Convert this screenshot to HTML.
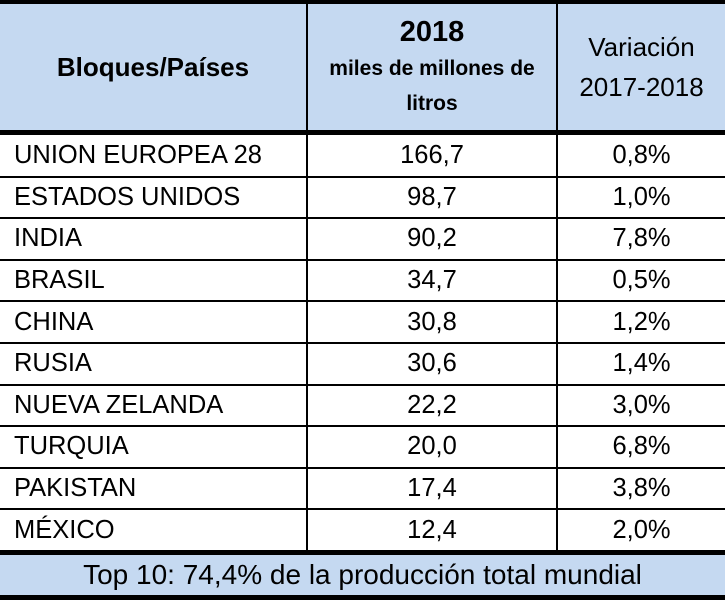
<!DOCTYPE html>
<html><head><meta charset="utf-8"><style>
body{margin:0;width:725px;height:600px;overflow:hidden;background:#fff;font-family:"Liberation Sans",sans-serif;color:#000}
.a{position:absolute}
.c{position:absolute;display:flex;align-items:center;box-sizing:border-box;white-space:nowrap}
.h{background:#c5d9f1}
</style></head><body>
<div class="a" style="left:0;top:0;width:725px;height:600px">
<div class="a h" style="left:0;top:0;width:725px;height:132px"></div>
<div class="a" style="left:0;top:0;width:725px;height:4px;background:#000"></div>
<div class="a" style="left:0;top:130px;width:725px;height:5px;background:#000"></div>
<div class="c" style="left:0;top:4px;width:306px;height:126px;justify-content:center;font-weight:bold;font-size:26px">Bloques/Países</div>
<div class="c" style="left:308px;top:4px;width:248px;height:126px;justify-content:center;flex-direction:column;font-weight:bold;text-align:center"><div style="font-size:29px;line-height:38px">2018</div><div style="font-size:21px;line-height:35px">miles de millones de<br>litros</div></div>
<div class="c" style="left:558px;top:4px;width:167px;height:126px;justify-content:center;text-align:center;font-size:26px;line-height:40px">Variación<br>2017-2018</div>
<div class="a" style="left:306px;top:0;width:2px;height:554px;background:#000"></div>
<div class="a" style="left:556px;top:0;width:2px;height:554px;background:#000"></div>
<div id="rows"></div>
<div class="a" style="left:0;top:550px;width:725px;height:5px;background:#000"></div>
<div class="c h" style="left:0;top:555px;width:725px;height:40px;justify-content:center;font-size:28px">Top 10: 74,4% de la producción total mundial</div>
<div class="a" style="left:0;top:595px;width:725px;height:5px;background:#000"></div>
</div>
<script>
const names=["UNION EUROPEA 28","ESTADOS UNIDOS","INDIA","BRASIL","CHINA","RUSIA","NUEVA ZELANDA","TURQUIA","PAKISTAN","MÉXICO"];
const vols=["166,7","98,7","90,2","34,7","30,8","30,6","22,2","20,0","17,4","12,4"];
const vars=["0,8%","1,0%","7,8%","0,5%","1,2%","1,4%","3,0%","6,8%","3,8%","2,0%"];
const R=document.getElementById('rows');
const top0=135,rh=41.6;
names.forEach((n,i)=>{
 const y=top0+i*rh;
 const row=document.createElement('div');
 
 
 row.className='a';row.style.cssText=`left:0;top:${y}px;width:725px;height:${rh}px;font-size:25.5px`;
 const c1=document.createElement('div');c1.className='c';c1.style.cssText=`left:14px;top:0;width:290px;height:${rh}px`;c1.textContent=n;
 
 
 const c2=document.createElement('div');c2.className='c';c2.style.cssText=`left:308px;top:0;width:248px;height:${rh}px;justify-content:center`;c2.textContent=vols[i];
 
 
 const c3=document.createElement('div');c3.className='c';c3.style.cssText=`left:558px;top:0;width:167px;height:${rh}px;justify-content:center`;c3.textContent=vars[i];
 
 
 row.append(c1,c2,c3);
 if(i<names.length-1){const l=document.createElement('div');l.className='a';l.style.cssText=`left:0;top:${rh-1}px;width:725px;height:2px;background:#000`;row.append(l);}
 R.append(row);
});
</script>
</body></html>
